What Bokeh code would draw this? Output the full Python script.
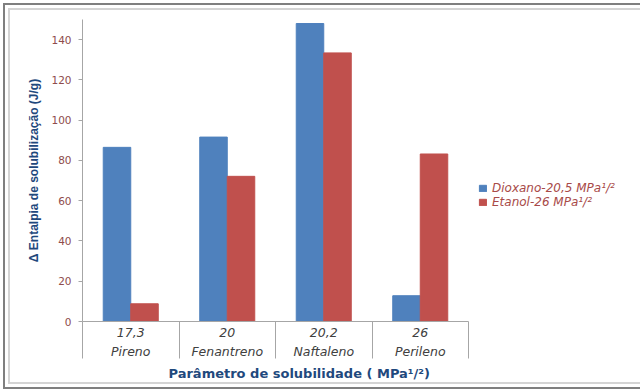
import numpy as np
from bokeh.plotting import figure
from bokeh.models import Range1d, LinearAxis, FixedTicker, Title
from bokeh.embed import file_html
from bokeh.resources import INLINE

compounds = ["Pireno", "Fenantreno", "Naftaleno", "Perileno"]
solubility_params = ["17,3", "20", "20,2", "26"]
dioxano = [86.5, 91.6, 148.0, 12.8]
etanol = [8.8, 72.1, 133.4, 83.2]
series_names = ["Dioxano-20,5 MPa¹/²", "Etanol-26 MPa¹/²"]
series_colors = ["#4F81BD", "#C0504D"]
y_ticks = [0, 20, 40, 60, 80, 100, 120, 140]

AXIS_GRAY = "#A6A6A6"
TITLE_BLUE = "#1F497D"
TICK_BROWN = "#8E4C4C"
CAT_GRAY = "#404040"

p = figure(width=640, height=392, frame_width=386, frame_height=302,
           output_backend="svg", toolbar_location=None,
           x_range=Range1d(-0.5, 3.5), y_range=Range1d(0, 150),
           x_axis_type=None,
           min_border_left=82, min_border_right=172,
           min_border_top=19, min_border_bottom=71)
p.border_fill_alpha = 0
p.styles = {
    "box-shadow": "inset 0 0 0 3px #ffffff, inset 0 0 0 5px #7F7F7F, "
                  "inset 0 0 0 8px #ffffff, inset 0 0 0 10px #D4D4D4",
    "background-color": "#ffffff",
}

centers = np.arange(len(compounds))
bar_w = 0.285
p.vbar(x=centers - bar_w / 2, top=dioxano, width=bar_w,
       fill_color=series_colors[0], line_color=series_colors[0],
       legend_label=series_names[0])
p.vbar(x=centers + bar_w / 2, top=etanol, width=bar_w,
       fill_color=series_colors[1], line_color=series_colors[1],
       legend_label=series_names[1])

# y axis
yax = p.yaxis[0]
yax.ticker = FixedTicker(ticks=y_ticks)
yax.major_label_text_font = "DejaVu Sans"
yax.major_label_text_font_size = "10.5px"
yax.major_label_text_color = TICK_BROWN
yax.axis_line_color = AXIS_GRAY
yax.major_tick_line_color = AXIS_GRAY
yax.major_tick_out = 4
yax.major_tick_in = 0
yax.minor_tick_line_color = None
yax.major_label_standoff = 7
yax.axis_label = "Δ Entalpia de solubilização (J/g)"
yax.axis_label_text_font = "Liberation Sans"
yax.axis_label_text_font_style = "bold"
yax.axis_label_text_font_size = "12px"
yax.axis_label_text_color = TITLE_BLUE
yax.axis_label_standoff = 7
p.ygrid.grid_line_color = None
p.outline_line_color = None

# x axis: solubility parameter row with category separators
boundaries = list(np.arange(len(compounds) + 1) - 0.5)
ax1 = LinearAxis(ticker=FixedTicker(ticks=list(centers), minor_ticks=boundaries),
                 major_label_overrides={int(i): s for i, s in zip(centers, solubility_params)})
ax1.axis_line_color = AXIS_GRAY
ax1.major_tick_out = 0
ax1.major_tick_in = 0
ax1.major_tick_line_color = None
ax1.minor_tick_out = 37
ax1.minor_tick_in = 0
ax1.minor_tick_line_color = AXIS_GRAY
ax1.major_label_standoff = -31
ax1.major_label_text_font = "DejaVu Sans"
ax1.major_label_text_font_style = "italic"
ax1.major_label_text_font_size = "12.5px"
ax1.major_label_text_color = CAT_GRAY
p.add_layout(ax1, "below")

ax2 = LinearAxis(ticker=FixedTicker(ticks=list(centers), minor_ticks=[]),
                 major_label_overrides={int(i): s for i, s in zip(centers, compounds)})
ax2.axis_line_color = None
ax2.major_tick_line_color = None
ax2.minor_tick_line_color = None
ax2.major_tick_out = 0
ax2.major_tick_in = 0
ax2.major_label_standoff = 4
ax2.major_label_text_font = "DejaVu Sans"
ax2.major_label_text_font_style = "italic"
ax2.major_label_text_font_size = "12.5px"
ax2.major_label_text_color = CAT_GRAY
p.add_layout(ax2, "below")

xtitle = Title(text="Parâmetro de solubilidade ( MPa¹/²)", align="left", offset=86,
               text_font="DejaVu Sans", text_font_style="bold",
               text_font_size="13px", text_color=TITLE_BLUE, standoff=4)
p.add_layout(xtitle, "below")

# legend, moved to the right panel
lg = p.legend[0]
p.center.remove(lg)
p.add_layout(lg, "right")
lg.location = (10, 112)
lg.padding = 0
lg.margin = 0
lg.spacing = 0
lg.border_line_color = None
lg.background_fill_alpha = 0
lg.glyph_width = 9
lg.glyph_height = 8
lg.label_standoff = 5
lg.label_height = 12
lg.label_text_font = "DejaVu Sans"
lg.label_text_font_style = "italic"
lg.label_text_font_size = "12px"
lg.label_text_color = "#A84A48"

open("out.html", "w").write(file_html(p, INLINE))
